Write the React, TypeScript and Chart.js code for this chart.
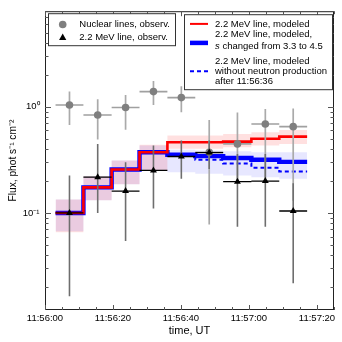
import React, { useEffect, useRef } from 'react';
import { Chart, registerables } from 'chart.js';

Chart.register(...registerables);

// time axis: seconds after 11:56:00 UT
const binEdges = [3.1, 11.3, 19.6, 27.8, 36.0, 44.2, 52.4, 60.7, 68.9, 77.1];
const obsTimes = [7.2, 15.5, 23.7, 31.9, 40.1, 48.3, 56.6, 64.8, 73.0];

// Nuclear lines, observed
const nucFlux = [1.04, 0.836, 0.985, 1.39, 1.22, 0.373, 0.447, 0.688, 0.65];
const nucHi = [1.39, 1.18, 1.29, 1.75, 1.56, 0.75, 0.884, 0.952, 0.964];
const nucLo = [0.674, 0.491, 0.609, 1.04, 0.888, 0.0778, 0.2, 0.2, 0.13];

// 2.2 MeV line, observed
const triFlux = [0.1, 0.2175, 0.1608, 0.2513, 0.34, 0.37, 0.197, 0.1995, 0.1044];
const triHi = [0.2256, 0.447, 0.3006, 0.431, 0.48, 0.48, 0.36, 0.36, 0.19];
const triLo = [0.0164, 0.1, 0.0546, 0.11, 0.21, 0.26, 0.074, 0.074, 0.0218];

// 2.2 MeV line, modeled
const redModel = [0.1, 0.174, 0.257, 0.373, 0.463, 0.463, 0.47, 0.5, 0.523];
const redBandHi = [0.134, 0.221, 0.312, 0.44, 0.535, 0.535, 0.555, 0.574, 0.605];
const redBandLo = [0.066, 0.1315, 0.186, 0.251, 0.4015, 0.4015, 0.4155, 0.431, 0.447];

// 2.2 MeV line, modeled, s changed from 3.3 to 4.5
const blueModel = [0.1, 0.174, 0.257, 0.373, 0.353, 0.343, 0.329, 0.317, 0.303];
const blueBandHi = [0.134, 0.221, 0.312, 0.431, 0.393, 0.387, 0.381, 0.373, 0.373];
const blueBandLo = [0.0674, 0.1315, 0.186, 0.251, 0.242, 0.234, 0.2256, 0.2175, 0.21];

// without neutron production after 11:56:36 (bins from 36 s)
const noNeutronEdges = [36.0, 44.2, 52.4, 60.7, 68.9, 77.1];
const noNeutronModel = [0.345, 0.3166, 0.292, 0.2665, 0.246];

const xMin = 0;
const xMax = 85;
const yMin = 0.0122;
const yMax = 7.94;
const xLabelTicks = [0, 20, 40, 60, 80];
const yLabelTicks = [0.1, 1];

const FONT = "'Liberation Sans', Arial, Helvetica, sans-serif";

type P = { x: number; y: number | null };

function stepPoints(edges: number[], vals: number[]): P[] {
  const pts: P[] = vals.map((v, i) => ({ x: edges[i], y: v }));
  pts.push({ x: edges[vals.length], y: vals[vals.length - 1] });
  return pts;
}
function vBars(xs: number[], lo: number[], hi: number[]): P[] {
  const out: P[] = [];
  xs.forEach((x, i) => {
    out.push({ x, y: lo[i] }, { x, y: hi[i] }, { x, y: null });
  });
  return out;
}
function hBars(edges: number[], ys: number[]): P[] {
  const out: P[] = [];
  ys.forEach((y, i) => {
    out.push({ x: edges[i], y }, { x: edges[i + 1], y }, { x: edges[i + 1], y: null });
  });
  return out;
}

const SUP: Record<string, string> = {
  '-': '\u207B', '0': '\u2070', '1': '\u00B9', '2': '\u00B2', '3': '\u00B3',
  '4': '\u2074', '5': '\u2075', '6': '\u2076', '7': '\u2077', '8': '\u2078', '9': '\u2079',
};
function powLabel(v: number) {
  const e = String(Math.round(Math.log10(v)));
  return '10' + e.split('').map((c) => SUP[c]).join('');
}
function timeLabel(v: number) {
  const total = 56 * 60 + Math.round(v);
  const mm = Math.floor(total / 60);
  const ss = total % 60;
  return `11:${mm}:${String(ss).padStart(2, '0')}`;
}

const framePlugin = {
  id: 'frameAndLegend',
  afterDraw(chart: any) {
    const { ctx, chartArea: a, scales } = chart;
    const xs = scales.x;
    const ys = scales.y;
    ctx.save();
    // frame
    ctx.strokeStyle = '#222';
    ctx.lineWidth = 1;
    ctx.strokeRect(a.left + 0.5, a.top + 0.5, a.right - a.left - 1, a.bottom - a.top - 1);
    // x ticks (inward on bottom and top)
    ctx.strokeStyle = '#555';
    ctx.beginPath();
    for (let t = 0; t <= xMax; t += 5) {
      const px = Math.round(xs.getPixelForValue(t)) + 0.5;
      const len = t % 20 === 0 ? 5 : 3;
      ctx.moveTo(px, a.bottom);
      ctx.lineTo(px, a.bottom - len);
      ctx.moveTo(px, a.top);
      ctx.lineTo(px, a.top + len);
    }
    // y ticks (inward on left and right)
    for (let d = -2; d <= 0; d++) {
      for (let m = 1; m <= 9; m++) {
        const v = m * Math.pow(10, d);
        if (v < yMin || v > yMax) continue;
        const py = Math.round(ys.getPixelForValue(v)) + 0.5;
        const len = m === 1 ? 6 : 3.5;
        ctx.moveTo(a.left, py);
        ctx.lineTo(a.left + len, py);
        ctx.moveTo(a.right, py);
        ctx.lineTo(a.right - len, py);
      }
    }
    ctx.stroke();

    // legends
    const L = a.left;
    const T = a.top;
    ctx.font = `9.5px ${FONT}`;
    ctx.textBaseline = 'middle';
    ctx.textAlign = 'left';

    // box 1
    ctx.fillStyle = '#fff';
    ctx.fillRect(L + 3.5, T + 2.5, 127, 32);
    ctx.strokeStyle = '#333';
    ctx.lineWidth = 1;
    ctx.strokeRect(L + 3.5, T + 2.5, 127, 32);
    ctx.fillStyle = '#7f7f7f';
    ctx.beginPath();
    ctx.arc(L + 17.7, T + 13.3, 3.8, 0, Math.PI * 2);
    ctx.fill();
    ctx.fillStyle = '#000';
    ctx.beginPath();
    ctx.moveTo(L + 17.7, T + 22.2);
    ctx.lineTo(L + 21.3, T + 28.7);
    ctx.lineTo(L + 14.1, T + 28.7);
    ctx.closePath();
    ctx.fill();
    ctx.fillText('Nuclear lines, observ.', L + 34.3, T + 13.3);
    ctx.fillText('2.2 MeV line, observ.', L + 34.3, T + 26);

    // box 2
    ctx.fillStyle = '#fff';
    ctx.fillRect(L + 139.5, T + 3.5, 148, 75);
    ctx.strokeStyle = '#333';
    ctx.strokeRect(L + 139.5, T + 3.5, 148, 75);
    ctx.strokeStyle = '#ff0000';
    ctx.lineWidth = 2;
    ctx.beginPath();
    ctx.moveTo(L + 145, T + 12.7);
    ctx.lineTo(L + 163, T + 12.7);
    ctx.stroke();
    ctx.strokeStyle = '#0000ff';
    ctx.lineWidth = 4.5;
    ctx.beginPath();
    ctx.moveTo(L + 145, T + 31.7);
    ctx.lineTo(L + 163, T + 31.7);
    ctx.stroke();
    ctx.lineWidth = 2;
    ctx.setLineDash([4, 3]);
    ctx.beginPath();
    ctx.moveTo(L + 145, T + 60);
    ctx.lineTo(L + 163, T + 60);
    ctx.stroke();
    ctx.setLineDash([]);
    ctx.fillStyle = '#000';
    ctx.fillText('2.2 MeV line, modeled', L + 170, T + 12.7);
    ctx.fillText('2.2 MeV line, modeled,', L + 170, T + 23.3);
    ctx.font = `italic 9.5px ${FONT}`;
    ctx.fillText('s', L + 170, T + 35);
    const sw = ctx.measureText('s ').width;
    ctx.font = `9.5px ${FONT}`;
    ctx.fillText('changed from 3.3 to 4.5', L + 170 + sw, T + 35);
    ctx.fillText('2.2 MeV line, modeled', L + 170, T + 50);
    ctx.fillText('without neutron production', L + 170, T + 60);
    ctx.fillText('after 11:56:36', L + 170, T + 70);
    ctx.restore();
  },
};

export default function App() {
  const ref = useRef<HTMLCanvasElement | null>(null);
  useEffect(() => {
    if (!ref.current) return;
    Chart.defaults.font.family = FONT;
    Chart.defaults.color = '#000';
    const line = (data: P[], extra: any) => ({
      data,
      pointRadius: 0,
      pointHoverRadius: 0,
      showLine: true,
      spanGaps: false,
      fill: false,
      ...extra,
    });
    const chart = new Chart(ref.current, {
      type: 'line',
      data: {
        datasets: [
          // markers on top
          { data: obsTimes.map((x, i) => ({ x, y: triFlux[i] })), showLine: false, pointStyle: 'triangle', pointRadius: 4, backgroundColor: '#000', borderColor: '#000', borderWidth: 0, order: 1 },
          line(hBars(binEdges, triFlux), { borderColor: '#000', borderWidth: 1.3, order: 2 }),
          line(vBars(obsTimes, triLo, triHi), { borderColor: '#6e6e6e', borderWidth: 1.6, order: 3 }),
          { data: obsTimes.map((x, i) => ({ x, y: nucFlux[i] })), showLine: false, pointStyle: 'circle', pointRadius: 3.8, backgroundColor: '#7f7f7f', borderColor: '#7f7f7f', borderWidth: 0, order: 4 },
          line(hBars(binEdges, nucFlux), { borderColor: '#a0a0a0', borderWidth: 1.6, order: 5 }),
          line(vBars(obsTimes, nucLo, nucHi), { borderColor: '#aaaaaa', borderWidth: 1.7, order: 6 }),
          line(stepPoints(binEdges, redModel), { borderColor: '#ff0000', borderWidth: 2.6, stepped: true, order: 7 }),
          line(stepPoints(noNeutronEdges, noNeutronModel), { borderColor: '#0000ff', borderWidth: 2, borderDash: [4, 3], stepped: true, order: 8 }),
          line(stepPoints(binEdges, blueModel), { borderColor: '#0000ff', borderWidth: 4.4, stepped: true, order: 9 }),
          // bands
          line(stepPoints(binEdges, redBandHi), { borderWidth: 0, borderColor: 'rgba(0,0,0,0)', stepped: true, fill: 10, backgroundColor: 'rgba(255,0,0,0.12)', order: 10 }),
          line(stepPoints(binEdges, redBandLo), { borderWidth: 0, borderColor: 'rgba(0,0,0,0)', stepped: true, order: 10 }),
          line(stepPoints(binEdges, blueBandHi), { borderWidth: 0, borderColor: 'rgba(0,0,0,0)', stepped: true, fill: 12, backgroundColor: 'rgba(40,40,255,0.11)', order: 11 }),
          line(stepPoints(binEdges, blueBandLo), { borderWidth: 0, borderColor: 'rgba(0,0,0,0)', stepped: true, order: 11 }),
        ],
      },
      options: {
        animation: false,
        responsive: false,
        devicePixelRatio: 1,
        layout: { padding: { top: 10, right: 8, left: 0, bottom: 0 } },
        plugins: { legend: { display: false }, tooltip: { enabled: false } },
        scales: {
          x: {
            type: 'linear',
            min: xMin,
            max: xMax,
            grid: { display: false, drawTicks: false },
            border: { display: false },
            afterFit: (s: any) => { s.height = 32; },
            afterBuildTicks: (s: any) => { s.ticks = xLabelTicks.map((value) => ({ value })); },
            ticks: {
              font: { size: 9.5 },
              color: '#000',
              padding: 3,
              maxRotation: 0,
              autoSkip: false,
              callback: (v: any) => timeLabel(Number(v)),
            },
            title: { display: true, text: 'time, UT', font: { size: 11 }, color: '#000', padding: { top: 0, bottom: 4.4 } },
          },
          y: {
            type: 'logarithmic',
            min: yMin,
            max: yMax,
            grid: { display: false, drawTicks: false },
            border: { display: false },
            afterFit: (s: any) => { s.width = 45; },
            afterBuildTicks: (s: any) => { s.ticks = yLabelTicks.map((value) => ({ value })); },
            ticks: {
              font: { size: 9.5 },
              color: '#000',
              padding: 5.5,
              autoSkip: false,
              callback: (v: any) => powLabel(Number(v)),
            },
            title: { display: true, text: 'Flux, phot s\u207B\u00B9 cm\u207B\u00B2', font: { size: 10.2 }, color: '#000', padding: { top: 7, bottom: 0 } },
          },
        },
      } as any,
      plugins: [framePlugin],
    });
    return () => chart.destroy();
  }, []);
  return (
    <div style={{ position: 'fixed', left: 0, top: 0, width: 342, height: 342, background: '#fff' }}>
      <canvas ref={ref} width={342} height={342} style={{ display: 'block', width: 342, height: 342 }} />
    </div>
  );
}
